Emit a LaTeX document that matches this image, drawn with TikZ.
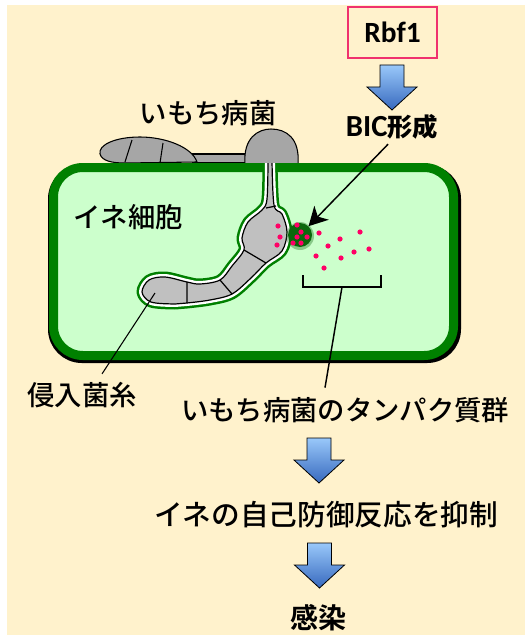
\documentclass[tikz,border=0pt]{standalone}
\usepackage{fontspec}
\newfontfamily\jp{Noto Sans CJK JP Medium}
\newfontfamily\jpbold{Noto Sans CJK JP Bold}
\newfontfamily\lat{Carlito}
\usetikzlibrary{arrows.meta}
\definecolor{cream}{RGB}{255,242,204}
\definecolor{cellgreen}{RGB}{204,255,204}
\definecolor{wallgreen}{RGB}{0,128,0}
\definecolor{bicgreen}{RGB}{12,104,12}
\definecolor{sporegray}{RGB}{166,166,166}
\definecolor{hyphagray}{RGB}{192,192,192}
\definecolor{dotpink}{RGB}{255,0,102}
\definecolor{boxpink}{RGB}{240,50,110}
\definecolor{arrowtop}{RGB}{153,200,250}
\definecolor{arrowbot}{RGB}{55,105,190}
\tikzset{
  jplabel/.style={inner sep=0pt, font=\jp\fontsize{20.5}{24}\selectfont},
  fungus/.style={fill=sporegray, draw=black, line width=0.8pt},
  flowarrow/.style={top color=arrowtop, bottom color=arrowbot, draw=black, line width=0.6pt},
  leader/.style={line width=1.1pt}
}
% blue block arrow, #1 = middle of its top edge
\newcommand{\flowarrow}[1]{\shadedraw[flowarrow] #1 ++(-12,0) -- ++(24,0) -- ++(0,22)
  -- ++(13,0) -- ++(-25,23) -- ++(-25,-23) -- ++(13,0) -- cycle;}
\newcommand{\hyphapath}{plot[smooth, tension=0.55] coordinates {(268,160) (267,199) (262,210)
  (248,222) (242,238) (244,250) (232,266) (220,280) (200,284) (187,282) (165,277) (149,280)
  (142,292) (151,302) (175,304) (187,303) (210,300) (232,294) (251,278) (266,263) (282,251)
  (287,232) (282,214) (274,205) (272,160)} -- cycle}

\begin{document}
\begin{tikzpicture}[x=0.75pt, y=-0.75pt]
  \useasboundingbox (0,0) rectangle (525,635);
  \fill[white] (0,0) rectangle (525,635);
  \fill[cream] (7,5) rectangle (525,635);

  % spore, germ tube and appressorium on the leaf surface
  \filldraw[fungus] (193,154) rectangle (247,163);
  \filldraw[fungus] (197,162) .. controls (192,147) and (165,137) .. (140,137)
    .. controls (115,137) and (98,145) .. (100,154)
    .. controls (102,161) and (112,163) .. (125,163) -- cycle;
  \draw[line width=0.8pt] (132,140) -- (125,162) (163,143) -- (160,163);
  \filldraw[fungus] (245,164) .. controls (243,138) and (258,129) .. (271,129)
    .. controls (286,129) and (300,138) .. (298,164) -- cycle;

  % rice cell
  \draw[black, line width=6.75pt, rounded corners=22pt] (52.5,169.5) rectangle (456.5,358.5);
  \draw[wallgreen, fill=cellgreen, line width=6.75pt, rounded corners=22pt]
    (53.5,167.5) rectangle (453.5,355.5);

  % invasive hypha with its membrane
  \begin{scope}
    \clip (0,163) rectangle (525,400);
    \draw[wallgreen, line width=8.25pt, line join=round] \hyphapath;
    \draw[white, line width=4.5pt, line join=round] \hyphapath;
    \filldraw[fill=hyphagray, draw=black, line width=0.9pt] \hyphapath;
  \end{scope}
  \draw[line width=0.9pt] (266,208) -- (276,206) (244,250) -- (266,263)
    (220,280) -- (232,294) (187,282) -- (187,303);
  \coordinate (hyphatip) at (155,293);

  % BIC and secreted proteins
  \fill[bicgreen, opacity=0.35] (300,236) circle (14);
  \node[circle, fill=bicgreen, minimum size=18pt, inner sep=0pt] (bic) at (300,235) {};
  \foreach \p in {(278,226),(280,237),(277,245),(297,225),(301,232),(297,237),(307,237),
      (293,243),(301,243),(319,233),(340,239),(360,232),(328,246),(316,256),(341,258),
      (354,252),(369,249),(324,268)}
    \fill[dotpink] \p circle (2.6);
  \draw[line width=1.5pt] (303,275) -- (303,287) -- (381,287) -- (381,275);
  \coordinate (bracket) at (342,287);

  % labels
  \node[jplabel] (blast) at (208,113) {いもち病菌};
  \node[jplabel] (rice) at (128,217) {イネ細胞};
  \node[jplabel] (hyphalabel) at (82,395) {侵入菌糸};
  \node[jplabel] (protlabel) at (345,410) {いもち病菌のタンパク質群};
  \node[jplabel, font=\jp\fontsize{21.5}{24}\selectfont] (suppress) at (326,515)
    {イネの自己防御反応を抑制};
  \node[jplabel, font=\jpbold\fontsize{21}{24}\selectfont] (infect) at (318,618) {感染};
  \node[draw=boxpink, line width=1.1pt, minimum width=66.75pt, minimum height=38.25pt,
    font=\lat\bfseries\fontsize{22}{24}\selectfont] (rbf) at (392.5,32.5) {Rbf1};
  \node[inner sep=0pt, font=\bfseries\fontsize{22}{24}\selectfont] (bictext) at (392,127)
    {{\lat\fontsize{23}{24}\selectfont BIC}{\jpbold\fontsize{19}{24}\selectfont 形成}};

  \draw[leader, -{Stealth[length=14pt, width=15pt, inset=4pt]}]
    ([xshift=-3pt, yshift=-3.4pt]bictext.south) -- (bic);
  \draw[line width=0.8pt] (hyphatip) -- ([xshift=15pt, yshift=6pt]hyphalabel.north);
  \draw[leader] (bracket) -- ([xshift=-15pt, yshift=7pt]protlabel.north);

  \flowarrow{(392,65)}
  \flowarrow{(319,438)}
  \flowarrow{(319.5,543)}
\end{tikzpicture}
\end{document}
